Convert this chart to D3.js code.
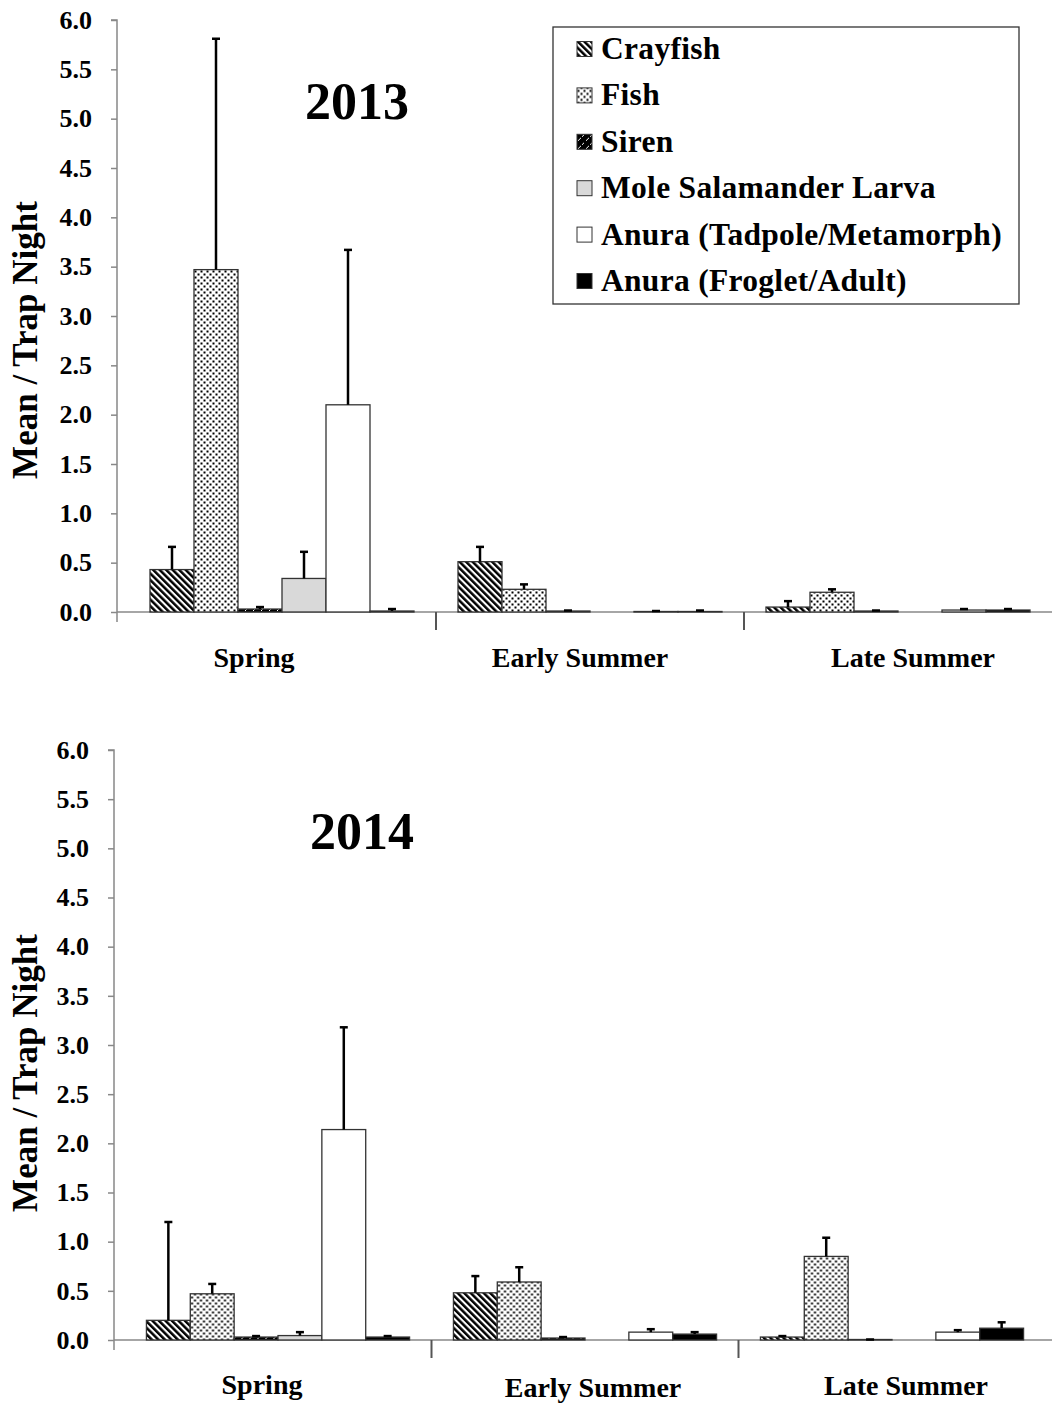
<!DOCTYPE html>
<html><head><meta charset="utf-8">
<script src="https://cdn.jsdelivr.net/npm/d3@7"></script>
<style>
html,body{margin:0;padding:0;background:#fff;}
text{font-family:"Liberation Serif","Times New Roman",serif;font-weight:bold;fill:#000;}
</style></head>
<body>
<svg id="chart" width="1052" height="1403"></svg>
<script>
// ---- data ----
const species = ["Crayfish","Fish","Siren","Mole Salamander Larva","Anura (Tadpole/Metamorph)","Anura (Froglet/Adult)"];
const seasons = ["Spring","Early Summer","Late Summer"];
const yTicks = [0,0.5,1,1.5,2,2.5,3,3.5,4,4.5,5,5.5,6];
const yTickLabels = ["0.0","0.5","1.0","1.5","2.0","2.5","3.0","3.5","4.0","4.5","5.0","5.5","6.0"];
const yTitle = "Mean / Trap Night";

// 2013 means and standard errors (order = species)
const mean2013Spring = [0.43, 3.47, 0.03, 0.34, 2.10, 0.01];
const se2013Spring   = [0.23, 2.34, 0.02, 0.27, 1.57, 0.02];
const mean2013Early  = [0.51, 0.23, 0.01, 0.00, 0.005, 0.005];
const se2013Early    = [0.15, 0.05, 0.005, 0.00, 0.005, 0.01];
const mean2013Late   = [0.05, 0.20, 0.01, 0.00, 0.02, 0.02];
const se2013Late     = [0.06, 0.03, 0.005, 0.00, 0.01, 0.01];

// 2014
const mean2014Spring = [0.20, 0.47, 0.03, 0.045, 2.14, 0.03];
const se2014Spring   = [1.00, 0.10, 0.01, 0.035, 1.04, 0.01];
const mean2014Early  = [0.48, 0.59, 0.02, 0.00, 0.08, 0.06];
const se2014Early    = [0.17, 0.15, 0.01, 0.00, 0.03, 0.02];
const mean2014Late   = [0.03, 0.85, 0.005, 0.00, 0.08, 0.12];
const se2014Late     = [0.01, 0.19, 0.00, 0.00, 0.02, 0.06];

const panels = [
  {title:"2013", means:[mean2013Spring,mean2013Early,mean2013Late], ses:[se2013Spring,se2013Early,se2013Late], legend:true,
   axisX:117, yTop:20, yBot:612, bandL:128, bandR:1052, titleX:357, titleY:119, yTitleY:340,
   labelDx:[-28,-10,15], labelY:[667,667,667]},
  {title:"2014", means:[mean2014Spring,mean2014Early,mean2014Late], ses:[se2014Spring,se2014Early,se2014Late], legend:false,
   axisX:114, yTop:750, yBot:1340, bandL:124.5, bandR:1045.5, titleX:362, titleY:849, yTitleY:1073,
   labelDx:[-16,8,14], labelY:[1394,1397,1395]}
];

const svg = d3.select("#chart");
const defs = svg.append("defs");

// patterns
const pCray = defs.append("pattern").attr("id","pCray").attr("patternUnits","userSpaceOnUse")
  .attr("width",4.6).attr("height",4.6).attr("patternTransform","rotate(-45)");
pCray.append("rect").attr("width",4.6).attr("height",4.6).attr("fill","#fff");
pCray.append("rect").attr("width",2.5).attr("height",4.6).attr("fill","#000");

const pFish = defs.append("pattern").attr("id","pFish").attr("patternUnits","userSpaceOnUse")
  .attr("width",6).attr("height",6);
pFish.append("rect").attr("width",6).attr("height",6).attr("fill","#fff");
pFish.append("rect").attr("x",0.5).attr("y",0.5).attr("width",2).attr("height",2).attr("fill","#000");
pFish.append("rect").attr("x",3.5).attr("y",3.5).attr("width",2).attr("height",2).attr("fill","#000");

const pSiren = defs.append("pattern").attr("id","pSiren").attr("patternUnits","userSpaceOnUse")
  .attr("width",8).attr("height",8);
pSiren.append("rect").attr("width",8).attr("height",8).attr("fill","#000");
pSiren.append("line").attr("x1",1).attr("y1",7).attr("x2",4).attr("y2",4).attr("stroke","#fff").attr("stroke-width",1);
pSiren.append("line").attr("x1",5).attr("y1",3).attr("x2",7).attr("y2",1).attr("stroke","#fff").attr("stroke-width",1);

const fills = ["url(#pCray)","url(#pFish)","url(#pSiren)","#d9d9d9","#ffffff","#000000"];
const color = d3.scaleOrdinal().domain(species).range(fills);

panels.forEach(p => {
  const g = svg.append("g");
  const y = d3.scaleLinear().domain([0,6]).range([p.yBot, p.yTop]);
  const x0 = d3.scaleBand().domain(seasons).range([p.bandL, p.bandR]).paddingInner(0).paddingOuter(0);
  const x1 = d3.scaleBand().domain(species).range([0, x0.bandwidth()]).paddingInner(0).paddingOuter(0.5);

  // y axis
  const yAxis = d3.axisLeft(y).tickValues(yTicks).tickFormat((d,i)=>yTickLabels[i]).tickSize(6).tickPadding(19);
  const ya = g.append("g").attr("transform",`translate(${p.axisX},0)`).call(yAxis);
  ya.select(".domain").attr("stroke","#888").attr("stroke-width",1.5).attr("d",`M-6,${p.yTop}H0V${p.yBot+10}`);
  ya.selectAll(".tick line").attr("stroke","#888").attr("stroke-width",1.5);
  ya.selectAll(".tick text").attr("font-size",26).attr("font-family","Liberation Serif").attr("font-weight","bold").attr("fill","#000");

  // x axis line
  g.append("line").attr("x1",p.axisX).attr("x2",1052).attr("y1",p.yBot).attr("y2",p.yBot)
    .attr("stroke","#888").attr("stroke-width",1.5);
  // separator ticks
  const seps = seasons.slice(1).map(s => x0(s));
  g.selectAll(".sep").data(seps).join("line")
    .attr("x1",d=>d).attr("x2",d=>d).attr("y1",p.yBot).attr("y2",p.yBot+18)
    .attr("stroke","#555").attr("stroke-width",2);

  // category labels
  g.selectAll(".cat").data(seasons).join("text")
    .attr("x",(d,i)=>x0(d)+x0.bandwidth()/2+p.labelDx[i]).attr("y",(d,i)=>p.labelY[i])
    .attr("text-anchor","middle").attr("font-size",28).text(d=>d);

  // bars
  seasons.forEach((s,si) => {
    const gg = g.append("g").attr("transform",`translate(${x0(s)},0)`);
    const data = species.map((sp,k)=>({sp, m:p.means[si][k], e:p.ses[si][k]}));
    gg.selectAll("rect").data(data).join("rect")
      .attr("x",d=>x1(d.sp)).attr("width",x1.bandwidth())
      .attr("y",d=>y(d.m)).attr("height",d=>Math.max(0,y(0)-y(d.m)))
      .attr("fill",d=>color(d.sp)).attr("stroke",d=>d.m>0?"#333":"none").attr("stroke-width",1.3);
    const eb = data.filter(d=>d.m>0);
    gg.selectAll(".eb").data(eb).join("line")
      .attr("x1",d=>x1(d.sp)+x1.bandwidth()/2).attr("x2",d=>x1(d.sp)+x1.bandwidth()/2)
      .attr("y1",d=>y(d.m)).attr("y2",d=>y(d.m+d.e)).attr("stroke","#000").attr("stroke-width",2.5);
    gg.selectAll(".cap").data(eb).join("line")
      .attr("x1",d=>x1(d.sp)+x1.bandwidth()/2-4).attr("x2",d=>x1(d.sp)+x1.bandwidth()/2+4)
      .attr("y1",d=>y(d.m+d.e)).attr("y2",d=>y(d.m+d.e)).attr("stroke","#000").attr("stroke-width",2.5);
  });

  // titles
  g.append("text").attr("x",p.titleX).attr("y",p.titleY).attr("text-anchor","middle").attr("font-size",52).text(p.title);
  g.append("text").attr("transform",`translate(37,${p.yTitleY}) rotate(-90)`).attr("text-anchor","middle")
    .attr("font-size",35).text(yTitle);

  if (p.legend) {
    const lg = g.append("g");
    lg.append("rect").attr("x",553).attr("y",27).attr("width",466).attr("height",277)
      .attr("fill","#fff").attr("stroke","#333").attr("stroke-width",1.3);
    const rows = lg.selectAll(".lr").data(species).join("g")
      .attr("transform",(d,i)=>`translate(577,${49+i*46.4})`);
    rows.append("rect").attr("x",0).attr("y",-7.5).attr("width",15).attr("height",15)
      .attr("fill",d=>color(d)).attr("stroke","#333").attr("stroke-width",1);
    rows.append("text").attr("x",24).attr("y",10).attr("font-size",31.5).attr("letter-spacing",0.3).text(d=>d);
  }
});
</script>
</body></html>
